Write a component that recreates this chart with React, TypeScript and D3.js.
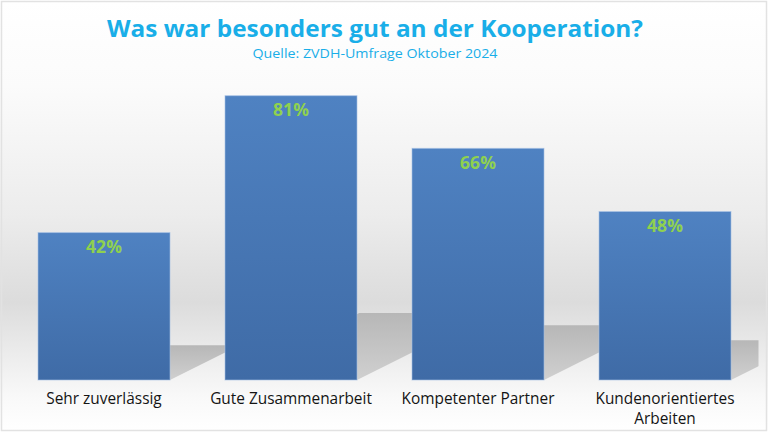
import React from "react";
import * as d3 from "d3";

const categories: string[][] = [
  ["Sehr zuverlässig"],
  ["Gute Zusammenarbeit"],
  ["Kompetenter Partner"],
  ["Kundenorientiertes", "Arbeiten"],
];
const values = [42, 81, 66, 48];
const title = "Was war besonders gut an der Kooperation?";
const subtitle = "Quelle: ZVDH-Umfrage Oktober 2024";

const W = 768;
const H = 432;

export default function App() {
  const x = d3
    .scaleBand<number>()
    .domain(values.map((_, i) => i))
    .range([10.5, 758.5])
    .paddingInner(0.294)
    .paddingOuter(0.147);
  const y = d3.scaleLinear().domain([0, 100]).range([380, 29]);
  const base = y(0);
  const font = "'Open Sans', 'Noto Sans', sans-serif";

  return (
    <div style={{ position: "fixed", left: 0, top: 0, width: W, height: H }}>
      <svg width={W} height={H} style={{ display: "block" }}>
        <defs>
          <linearGradient id="bg" x1="0" y1="0" x2="0" y2="1">
            <stop offset="0" stopColor="#ffffff" />
            <stop offset="0.2" stopColor="#fbfbfb" />
            <stop offset="0.5" stopColor="#ececec" />
            <stop offset="0.7" stopColor="#dcdcdc" />
            <stop offset="0.82" stopColor="#ececec" />
            <stop offset="0.92" stopColor="#f9f9f9" />
            <stop offset="1" stopColor="#ffffff" />
          </linearGradient>
          <linearGradient id="bar" x1="0" y1="0" x2="0" y2="1">
            <stop offset="0" stopColor="#4f82c2" />
            <stop offset="1" stopColor="#3f6ba6" />
          </linearGradient>
          <linearGradient id="shadow" x1="0" y1="0" x2="0" y2="1">
            <stop offset="0" stopColor="#b7b7b7" />
            <stop offset="1" stopColor="#d0d0d0" />
          </linearGradient>
          <clipPath id="plot">
            <rect x={10} y={20} width={748.5} height={380} />
          </clipPath>
        </defs>
        <rect x={0} y={0} width={W} height={H} fill="url(#bg)" />
        <rect x={1.5} y={1.5} width={W - 3} height={H - 3} fill="none" stroke="#e2e2e2" strokeWidth={1.5} />
        <text x={375} y={37} textAnchor="middle" fontFamily={font} fontWeight={700} fontSize={23}
          fill="#19aee8" textLength={536} lengthAdjust="spacingAndGlyphs">{title}</text>
        <text x={375} y={58} textAnchor="middle" fontFamily={font} fontSize={13}
          fill="#19aee8" textLength={245} lengthAdjust="spacingAndGlyphs">{subtitle}</text>
        <g clipPath="url(#plot)">
          {values.map((v, i) => {
            const x0 = x(i)!;
            const x1 = x0 + x.bandwidth();
            const h = base - y(v);
            const sh = h * 0.236;
            const dx = sh / 0.5;
            const pts = [
              [x0, base],
              [x1, base],
              [x1 + dx, base - sh],
              [x0 + dx, base - sh],
            ];
            return <polygon key={"s" + i} points={pts.map((p) => p.join(",")).join(" ")} fill="url(#shadow)" />;
          })}
        </g>
        {values.map((v, i) => {
          const x0 = x(i)!;
          return (
            <g key={"b" + i}>
              <rect x={x0} y={y(v)} width={x.bandwidth()} height={base - y(v)} fill="url(#bar)"
                stroke="#a9c3e6" strokeOpacity={0.6} strokeWidth={1} />
              <text x={x0 + x.bandwidth() / 2} y={y(v) + 20.5} textAnchor="middle" fontFamily={font}
                fontWeight={700} fontSize={17.5} fill="#8fd14f">{v}%</text>
            </g>
          );
        })}
        {categories.map((lines, i) =>
          lines.map((l, j) => (
            <text key={"c" + i + "-" + j} x={x(i)! + x.bandwidth() / 2} y={404 + j * 20}
              textAnchor="middle" fontFamily={font} fontSize={15.4} fill="#141414">{l}</text>
          ))
        )}
      </svg>
    </div>
  );
}
